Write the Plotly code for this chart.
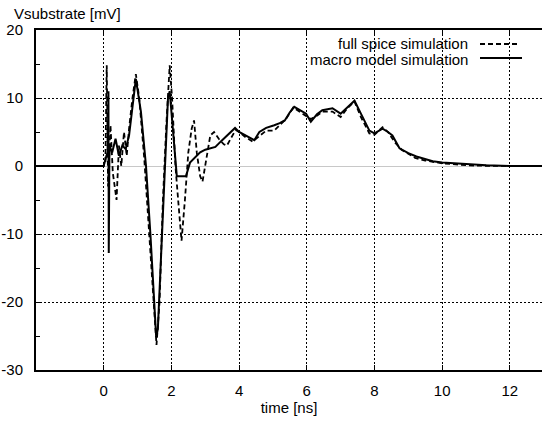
import plotly.graph_objects as go

# macro model simulation (solid)
t_macro = [-2, 0.0, 0.08, 0.12, 0.14, 0.15, 0.17, 0.25, 0.35, 0.45, 0.55, 0.65, 0.75, 0.85, 0.95,
           1.1, 1.25, 1.38, 1.48, 1.55, 1.6, 1.68, 1.75, 1.82, 1.9, 1.95, 2.0, 2.08, 2.16, 2.3, 2.43,
           2.55, 2.7, 2.85, 3.0, 3.15, 3.3, 3.5, 3.7, 3.88, 4.0, 4.15, 4.3, 4.45, 4.6, 4.8, 5.04,
           5.2, 5.35, 5.5, 5.63, 5.8, 5.98, 6.12, 6.3, 6.46, 6.76, 7.0, 7.2, 7.41, 7.6, 7.85, 8.0,
           8.24, 8.4, 8.53, 8.74, 9.0, 9.24, 9.5, 9.72, 10.0, 10.5, 11.0, 11.3, 12.0, 13.0]
v_macro = [0, 0, 1.5, 2.0, 11.0, -12.8, 3.0, 2.0, 4.0, 1.5, 3.0, 2.5, 4.5, 9.0, 12.8,
           8.0, 0.0, -10.0, -20.0, -25.1, -24.0, -15.0, -5.0, 3.0, 10.0, 11.0, 8.0, 2.0, -1.5, -1.5, -1.5,
           0.5, 1.2, 2.0, 2.4, 2.6, 2.8, 3.8, 4.8, 5.6, 5.0, 4.6, 4.2, 3.8, 5.0, 5.6, 6.0,
           6.3, 6.7, 7.9, 8.7, 8.2, 7.7, 6.5, 7.6, 8.2, 8.5, 7.7, 8.7, 9.6, 7.7, 5.2, 4.8,
           5.5, 5.0, 4.5, 2.6, 1.9, 1.4, 1.0, 0.7, 0.5, 0.35, 0.15, 0.1, 0.0, 0.0]

# full spice simulation (dashed)
t_spice = [-2, 0.0, 0.05, 0.09, 0.13, 0.2, 0.27, 0.38, 0.45, 0.52, 0.6, 0.68, 0.75, 0.85, 0.95,
           1.05, 1.2, 1.35, 1.47, 1.56, 1.65, 1.75, 1.85, 1.95, 2.02, 2.12, 2.2, 2.3, 2.4, 2.5,
           2.6, 2.67, 2.75, 2.85, 2.92, 3.05, 3.15, 3.26, 3.4, 3.55, 3.64, 3.75, 3.9, 4.0, 4.2,
           4.4, 4.6, 4.8, 5.04, 5.2, 5.4, 5.6, 5.8, 6.0, 6.12, 6.3, 6.46, 6.76, 7.0, 7.2, 7.41,
           7.6, 7.85, 8.0, 8.24, 8.4, 8.6, 8.8, 9.0, 9.2, 9.5, 9.8, 10.0, 10.5, 11.0, 12.0, 13.0]
v_spice = [0, 0, 0.5, 14.8, -3.0, 6.0, -1.0, -5.0, 3.0, 0.0, 5.0, 1.5, 5.5, 10.0, 13.5,
           10.0, 1.0, -10.0, -20.0, -26.3, -20.0, -5.0, 6.0, 14.8, 10.0, 0.0, -5.0, -11.0, -5.0, 2.0,
           5.5, 6.7, 2.0, -1.5, -2.3, 1.5, 4.5, 5.0, 4.0, 3.2, 3.0, 4.0, 5.3, 5.0, 4.2,
           3.6, 4.4, 5.2, 5.2, 6.0, 7.0, 8.6, 7.9, 7.3, 6.9, 7.4, 8.0, 8.0, 7.2, 8.5, 9.5,
           7.2, 4.8, 4.6, 5.7, 5.0, 3.5, 2.4, 1.8, 1.2, 0.8, 0.5, 0.4, 0.2, 0.05, 0.0, 0.0]

x_ticks = [0, 2, 4, 6, 8, 10, 12]
y_ticks = [-30, -20, -10, 0, 10, 20]
legend_names = ["full spice simulation", "macro model simulation"]

FONT = "Liberation Sans, Arial, sans-serif"
FS = 15

fig = go.Figure()
fig.add_trace(go.Scatter(x=t_spice, y=v_spice, mode="lines", name=legend_names[0],
                         line=dict(color="black", width=1.8, dash="5px,3px")))
fig.add_trace(go.Scatter(x=t_macro, y=v_macro, mode="lines", name=legend_names[1],
                         line=dict(color="black", width=2)))

W, H = 542, 424
L, R, T, B = 36, 0, 30, 54
pw, ph = W - L - R, H - T - B

def px(xw):
    return (xw - L) / pw

def py(yw):
    return 1 - (yw - T) / ph

fig.update_layout(
    width=W, height=H,
    margin=dict(l=L, r=R, t=T, b=B, autoexpand=False),
    paper_bgcolor="white", plot_bgcolor="white",
    showlegend=False,
    font=dict(family=FONT, size=FS, color="black"),
    xaxis=dict(range=[-2, 12.95], tickvals=x_ticks, ticktext=[str(v) for v in x_ticks],
               showgrid=True, gridcolor="black", griddash="2px,2px", gridwidth=1,
               zeroline=False, showline=True, linecolor="black", linewidth=2,
               mirror="ticks", ticks="inside", ticklen=5, tickcolor="black",
               automargin=False,
               title=dict(text="time [ns]", font=dict(size=FS), standoff=2),
               ticklabelstandoff=6),
    yaxis=dict(range=[-30, 20], tickvals=y_ticks, ticktext=[str(v) for v in y_ticks],
               showgrid=True, gridcolor="black", griddash="2px,2px", gridwidth=1,
               zeroline=True, zerolinecolor="#c8c8c8", zerolinewidth=1,
               showline=True, linecolor="black", linewidth=2,
               ticks="inside", ticklen=5, tickcolor="black", automargin=False,
               minor=dict(dtick=5, ticks="inside", ticklen=4, tickcolor="black", showgrid=False),
               ticklabelstandoff=8),
)

fig.add_annotation(text="Vsubstrate [mV]", xref="paper", yref="paper",
                   x=px(12), xanchor="left", y=py(14), yanchor="middle",
                   showarrow=False, font=dict(size=FS))

# legend (text right aligned, sample on the right)
fig.add_annotation(text=legend_names[0], xref="paper", yref="paper",
                   x=px(470), xanchor="right", y=py(44), yanchor="middle",
                   showarrow=False, font=dict(size=FS))
fig.add_annotation(text=legend_names[1], xref="paper", yref="paper",
                   x=px(470), xanchor="right", y=py(59), yanchor="middle",
                   showarrow=False, font=dict(size=FS))
fig.add_shape(type="line", xref="paper", yref="paper", x0=px(480), x1=px(519),
              y0=py(44), y1=py(44), line=dict(color="black", width=1.8, dash="5px,3px"))
fig.add_shape(type="line", xref="paper", yref="paper", x0=px(480), x1=px(522),
              y0=py(58), y1=py(58), line=dict(color="black", width=2))

fig.write_html("out.html", config={"displayModeBar": False},
               post_script="document.body.style.margin='0';document.body.style.overflow='hidden';")
